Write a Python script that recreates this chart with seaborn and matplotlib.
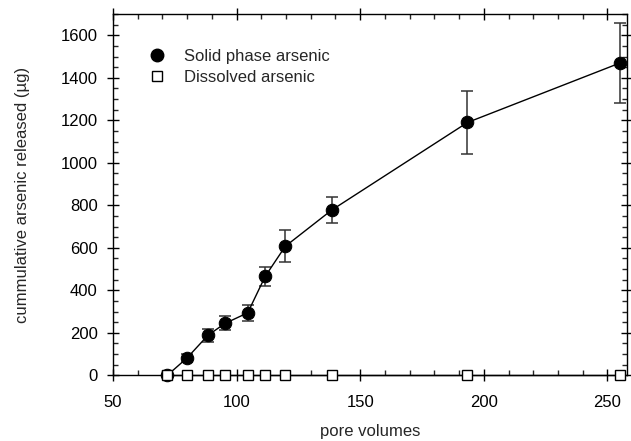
import matplotlib
matplotlib.use("Agg")
import matplotlib.pyplot as plt
from matplotlib.lines import Line2D
from matplotlib.ticker import MultipleLocator
import seaborn as sns
import pandas as pd

pore_volumes = [72.0, 80.0, 88.4, 95.3, 104.5, 111.6, 119.7, 138.4, 193.4, 255.1]
solid_as = [0, 82, 188, 244, 294, 466, 607, 777, 1190, 1470]
solid_err = [0, 18, 29, 33, 37, 44, 75, 62, 150, 190]
dissolved_as = [0, 0, 0, 0, 0, 0, 0, 0, 0, 0]

sns.set_theme(style="ticks")
plt.rcParams["font.family"] = ["Liberation Sans", "DejaVu Sans"]

df = pd.DataFrame({"pv": pore_volumes, "solid": solid_as, "err": solid_err,
                   "dissolved": dissolved_as})

fig = plt.figure(figsize=(6.31, 4.41), dpi=100)
ax = fig.add_axes([0.179, 0.149, 0.815, 0.819])

ax.errorbar(df["pv"], df["solid"], yerr=df["err"], fmt="none", ecolor="#333333",
            elinewidth=1.1, capsize=4, capthick=1.1, zorder=2, clip_on=False)
sns.lineplot(data=df, x="pv", y="solid", ax=ax, color="black", linewidth=1,
             marker="o", markersize=9, markeredgecolor="black", markerfacecolor="black",
             zorder=3, clip_on=False)
sns.lineplot(data=df, x="pv", y="dissolved", ax=ax, color="black", linewidth=1,
             marker="s", markersize=7, markeredgecolor="black", markerfacecolor="white",
             markeredgewidth=1, zorder=4, clip_on=False)

ax.set_xlim(50, 258)
ax.set_ylim(0, 1700)
ax.xaxis.set_major_locator(MultipleLocator(50))
ax.xaxis.set_minor_locator(MultipleLocator(10))
ax.yaxis.set_major_locator(MultipleLocator(200))
ax.yaxis.set_minor_locator(MultipleLocator(50))
ax.tick_params(which="major", direction="inout", length=8, width=1, labelsize=12,
               top=True, right=True, colors="black", pad=7)
ax.tick_params(which="minor", direction="in", length=3.5, width=1, top=True, right=True)
ax.tick_params(axis="x", which="major", pad=10)
for s in ax.spines.values():
    s.set_linewidth(1)
    s.set_color("black")

ax.set_xlabel("pore volumes", fontsize=12, labelpad=10)
ax.set_ylabel("cummulative arsenic released (\u00b5g)", fontsize=12, labelpad=22)

handles = [
    Line2D([], [], linestyle="none", marker="o", markersize=9, color="black"),
    Line2D([], [], linestyle="none", marker="s", markersize=7, markerfacecolor="white",
           markeredgecolor="black"),
]
ax.legend(handles, ["Solid phase arsenic", "Dissolved arsenic"], loc="upper left",
          bbox_to_anchor=(0.025, 0.945), frameon=False, fontsize=12, handletextpad=0.6,
          labelspacing=0.35)

fig.savefig("out.png", dpi=100)
